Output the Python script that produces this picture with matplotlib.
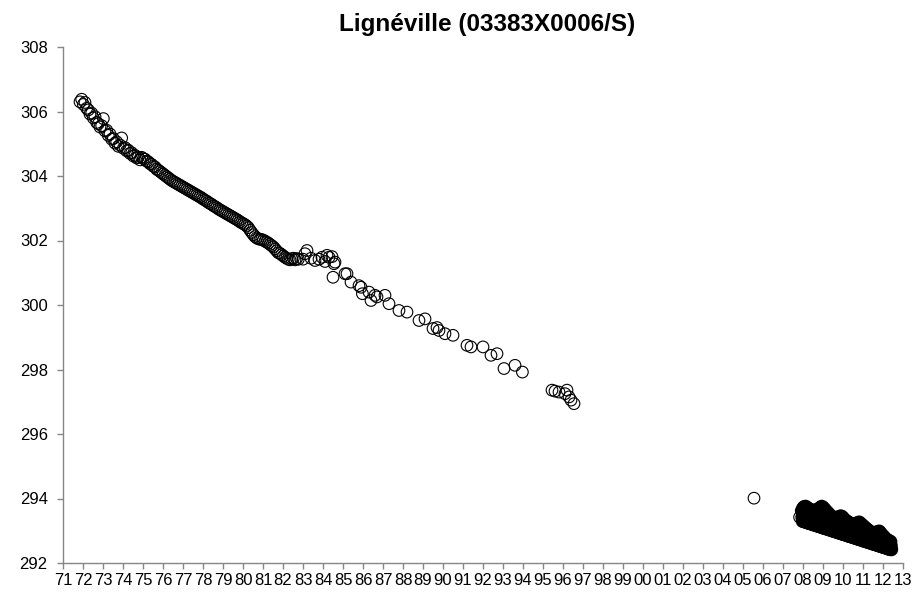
import matplotlib
matplotlib.use("Agg")
import matplotlib.pyplot as plt
import numpy as np

plt.rcParams['font.family'] = ['Liberation Sans', 'DejaVu Sans']

title = 'Lignéville (03383X0006/S)'

# 1971-1982: monthly readings (start year + one value per month)
early_start = 1971.85
early_step = 1 / 12
early_levels = [
    306.30, 306.38, 306.22, 306.28, 306.10, 306.05, 305.92, 305.95, 305.80, 305.84, 305.66, 305.62,
    305.52, 305.56, 305.78, 305.40, 305.42, 305.26, 305.30, 305.14, 305.16, 305.02, 305.06, 304.92,
    304.96, 305.18, 304.86, 304.88, 304.78, 304.80, 304.70, 304.72, 304.62, 304.64, 304.56, 304.58,
    304.50, 304.58, 304.54, 304.52, 304.46, 304.44, 304.38, 304.36, 304.30, 304.28, 304.21, 304.18,
    304.14, 304.10, 304.06, 304.02, 303.98, 303.94, 303.90, 303.86, 303.83, 303.80, 303.77, 303.74,
    303.71, 303.68, 303.65, 303.62, 303.59, 303.56, 303.53, 303.50, 303.47, 303.44, 303.41, 303.38,
    303.35, 303.32, 303.28, 303.25, 303.22, 303.18, 303.15, 303.12, 303.08, 303.05, 303.02, 302.98,
    302.95, 302.92, 302.89, 302.86, 302.83, 302.80, 302.77, 302.74, 302.71, 302.68, 302.65, 302.62,
    302.58, 302.55, 302.52, 302.49, 302.45, 302.40, 302.32, 302.25, 302.18, 302.12, 302.08, 302.05,
    302.04, 302.03, 302.01, 301.98, 301.95, 301.92, 301.88, 301.84, 301.80, 301.74, 301.68, 301.62,
    301.60, 301.56, 301.52, 301.48, 301.45, 301.42, 301.40, 301.43, 301.45, 301.40, 301.44, 301.42,
]

# 1983-1996: sparse readings
mid_years = [1983.0, 1983.1, 1983.2, 1983.4, 1983.6, 1983.8, 1983.95, 1984.1, 1984.2, 1984.3,
             1984.45, 1984.55, 1984.6, 1984.5, 1985.1, 1985.2, 1985.4, 1985.8, 1985.9, 1985.97,
             1986.3, 1986.4, 1986.6, 1986.7, 1987.1, 1987.3, 1987.8, 1988.2, 1988.8, 1989.1,
             1989.5, 1989.7, 1989.8, 1990.1, 1990.5, 1991.2, 1991.4, 1992.0, 1992.4, 1992.7,
             1993.05, 1993.6, 1993.97, 1995.45, 1995.6, 1995.8, 1996.1, 1996.2, 1996.3, 1996.4,
             1996.55]
mid_levels = [301.42, 301.59, 301.69, 301.45, 301.38, 301.42, 301.48, 301.35, 301.54, 301.48,
              301.50, 301.28, 301.33, 300.86, 300.97, 300.97, 300.71, 300.60, 300.55, 300.35,
              300.40, 300.14, 300.30, 300.25, 300.30, 300.04, 299.83, 299.78, 299.52, 299.57,
              299.27, 299.30, 299.21, 299.11, 299.06, 298.75, 298.70, 298.70, 298.44, 298.49,
              298.03, 298.13, 297.92, 297.36, 297.33, 297.30, 297.25, 297.36, 297.15, 297.05,
              296.94]

# isolated readings
lone_years = [2005.55, 2007.83]
lone_levels = [294.01, 293.42]

# 2008-2012: logger readings, high / middle / low of each 1/16-year slot
late_start = 2007.9375
late_step = 1 / 48
late_levels = [
    293.62, 293.42, 293.30,
    293.70, 293.50, 293.29,  293.74, 293.51, 293.28,  293.75, 293.51, 293.27,  293.72, 293.49, 293.25,
    293.69, 293.47, 293.24,  293.67, 293.45, 293.23,  293.65, 293.43, 293.22,  293.63, 293.42, 293.20,
    293.61, 293.40, 293.19,  293.62, 293.40, 293.18,  293.63, 293.40, 293.17,  293.64, 293.40, 293.15,
    293.66, 293.40, 293.14,  293.69, 293.41, 293.13,  293.72, 293.42, 293.12,  293.75, 293.43, 293.10,
    293.72, 293.40, 293.09,  293.68, 293.38, 293.08,  293.63, 293.35, 293.07,  293.59, 293.32, 293.05,
    293.55, 293.30, 293.04,  293.51, 293.27, 293.03,  293.47, 293.24, 293.02,  293.43, 293.22, 293.00,
    293.41, 293.20, 292.99,  293.41, 293.19, 292.98,  293.40, 293.18, 292.97,  293.39, 293.17, 292.95,
    293.41, 293.17, 292.94,  293.43, 293.18, 292.93,  293.45, 293.18, 292.92,  293.44, 293.17, 292.90,
    293.40, 293.15, 292.89,  293.35, 293.11, 292.88,  293.32, 293.09, 292.87,  293.29, 293.07, 292.85,
    293.27, 293.05, 292.84,  293.24, 293.03, 292.83,  293.22, 293.02, 292.82,  293.20, 293.00, 292.80,
    293.20, 292.99, 292.79,  293.19, 292.98, 292.78,  293.19, 292.98, 292.77,  293.22, 292.98, 292.75,
    293.25, 292.99, 292.74,  293.26, 292.99, 292.73,  293.22, 292.97, 292.72,  293.19, 292.94, 292.70,
    293.15, 292.92, 292.69,  293.12, 292.90, 292.68,  293.08, 292.87, 292.67,  293.05, 292.85, 292.65,
    293.02, 292.83, 292.64,  292.99, 292.81, 292.63,  292.96, 292.79, 292.62,  292.94, 292.77, 292.60,
    292.92, 292.75, 292.59,  292.90, 292.74, 292.58,  292.93, 292.75, 292.57,  292.95, 292.75, 292.55,
    292.97, 292.75, 292.54,  292.98, 292.75, 292.53,  292.93, 292.72, 292.52,  292.88, 292.69, 292.50,
    292.84, 292.66, 292.49,  292.80, 292.64, 292.48,  292.76, 292.61, 292.47,  292.72, 292.58, 292.45,
    292.70, 292.57, 292.44,  292.68, 292.55, 292.43,  292.66, 292.54, 292.42,
]

year_ticks = list(range(1971, 2014))
year_labels = ['%02d' % (y % 100) for y in year_ticks]

early_years = early_start + early_step * np.arange(len(early_levels))
late_years = late_start + late_step * np.arange(len(late_levels))

manual_x = np.concatenate([early_years, mid_years, lone_years])
manual_y = np.concatenate([early_levels, mid_levels, lone_levels])

fig = plt.figure(figsize=(9.16, 5.95), dpi=100)
ax = fig.add_axes([63 / 916, 32 / 595, 840 / 916, 516 / 595])

ax.scatter(manual_x, manual_y, s=70, facecolors='none', edgecolors='black', linewidths=0.8)
# logger readings are so dense they merge into a solid band
ax.scatter(late_years, late_levels, s=70, facecolors='none', edgecolors='black', linewidths=1.5)

ax.set_xlim(1971, 2013)
ax.set_ylim(292, 308)
ax.set_xticks(year_ticks)
ax.set_xticklabels(year_labels, family=['Liberation Sans Narrow', 'Liberation Sans'], fontsize=12)
ax.set_yticks(np.arange(292, 309, 2))

grey = '#868686'
for side in ['top', 'right']:
    ax.spines[side].set_visible(False)
for side in ['left', 'bottom']:
    ax.spines[side].set_color(grey)
    ax.spines[side].set_linewidth(1.0)
ax.tick_params(axis='both', colors=grey, labelcolor='black', length=4, width=1.0)
ax.tick_params(axis='y', labelsize=12, pad=7)
ax.tick_params(axis='x', pad=3)

fig.text(486.7 / 916, 1 - 31 / 595, title, ha='center', va='baseline',
         fontsize=17.5, fontweight='bold')

fig.savefig('out.png', dpi=100)
